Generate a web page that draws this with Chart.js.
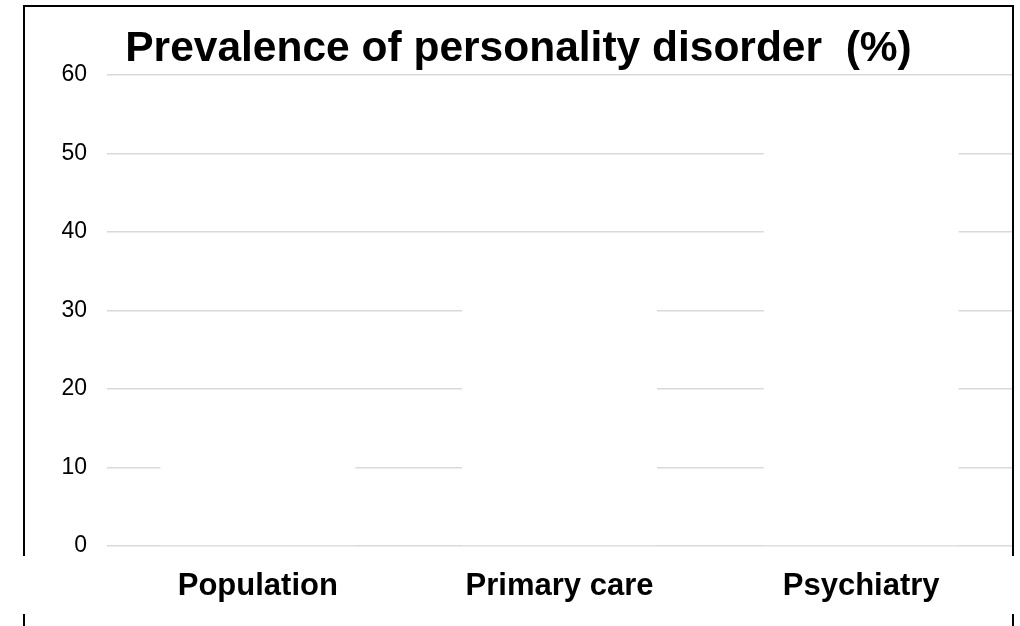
<!DOCTYPE html>
<html>
<head>
<meta charset="utf-8">
<title>Prevalence of personality disorder</title>
<script src="https://cdn.jsdelivr.net/npm/chart.js@4/dist/chart.umd.min.js"></script>
<style>
    html, body { margin: 0; padding: 0; background: #ffffff; }
    #wrap { width: 1020px; height: 626px; position: relative; }
</style>
</head>
<body>
<div id="wrap"><canvas id="chartPrevalence"></canvas></div>
<script>
var categories = ['Population', 'Primary care', 'Psychiatry'];
var prevalence = [13, 33, 52];
var yTicks = [0, 10, 20, 30, 40, 50, 60];

(function () {
    // Slide frame: black box, broken behind the category labels
    var framePlugin = {
        id: 'slideFrame',
        beforeDraw: function (chart) {
            var ctx = chart.ctx;
            ctx.save();
            ctx.fillStyle = '#ffffff';
            ctx.fillRect(0, 0, chart.width, chart.height);
            ctx.strokeStyle = '#000000';
            ctx.lineWidth = 2;
            ctx.beginPath();
            ctx.moveTo(24, chart.height + 2);
            ctx.lineTo(24, 6);
            ctx.lineTo(1013, 6);
            ctx.lineTo(1013, chart.height + 2);
            ctx.stroke();
            ctx.fillRect(0, 556, chart.width, 58);
            ctx.restore();
        }
    };

    function initChart() {
        var el = document.getElementById('chartPrevalence');
        if (!el || typeof Chart === 'undefined') {
            return;
        }

        new Chart(el, {
            type: 'bar',
            data: {
                labels: categories,
                datasets: [{
                    label: 'Prevalence (%)',
                    data: prevalence,
                    backgroundColor: '#ffffff',
                    borderWidth: 0,
                    barPercentage: 0.646,
                    categoryPercentage: 1
                }]
            },
            options: {
                responsive: true,
                maintainAspectRatio: false,
                animation: false,
                layout: {
                    padding: { left: 25, right: 8, top: 0, bottom: 21 }
                },
                scales: {
                    x: {
                        afterFit: function (scale) { scale.height = 59; },
                        grid: { display: false, drawTicks: false },
                        border: { display: false },
                        ticks: {
                            padding: 22,
                            color: '#000000',
                            font: { family: '"Liberation Sans", Arial, sans-serif', size: 31, weight: 'bold' }
                        }
                    },
                    y: {
                        min: 0,
                        max: 60,
                        afterFit: function (scale) { scale.width = 82; },
                        afterBuildTicks: function (scale) {
                            scale.ticks = yTicks.map(function (v) { return { value: v }; });
                        },
                        grid: { color: '#d9d9d9', lineWidth: 1.5, drawTicks: false },
                        border: { display: false },
                        ticks: {
                            padding: 20,
                            color: '#000000',
                            font: { family: '"Liberation Sans", Arial, sans-serif', size: 23 }
                        }
                    }
                },
                plugins: {
                    legend: { display: false },
                    tooltip: { enabled: false },
                    title: {
                        display: true,
                        text: 'Prevalence of personality disorder  (%)',
                        color: '#000000',
                        padding: { top: 24, bottom: 0 },
                        font: { family: '"Liberation Sans", Arial, sans-serif', size: 42.5, weight: 'bold' }
                    }
                }
            },
            plugins: [framePlugin]
        });
    }

    document.addEventListener('DOMContentLoaded', initChart);
})();
</script>
</body>
</html>
